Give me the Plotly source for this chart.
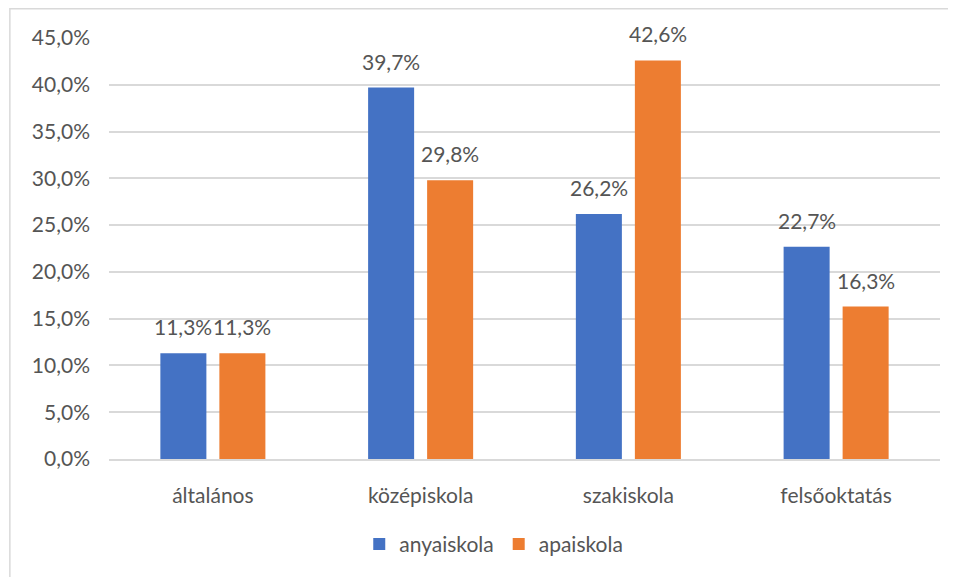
import plotly.graph_objects as go

categories = ["általános", "középiskola", "szakiskola", "felsőoktatás"]
anyaiskola = [11.3, 39.7, 26.2, 22.7]
apaiskola = [11.3, 29.8, 42.6, 16.3]
series_names = ["anyaiskola", "apaiskola"]
colors = ["#4472C4", "#ED7D31"]
tick_vals = [0, 5, 10, 15, 20, 25, 30, 35, 40, 45]
tick_text = [f"{v:.1f}".replace(".", ",") + "%" for v in tick_vals]

FONT = "Lato, Calibri, Carlito, sans-serif"
TXT = "#555555"
FS = 21

fig = go.Figure()
for name, vals, col in zip(series_names, [anyaiskola, apaiskola], colors):
    fig.add_trace(go.Bar(
        x=categories, y=vals, name=name,
        marker=dict(color=col, line=dict(width=0)),
    ))

annotations = []
for vals, shift in zip([anyaiskola, apaiskola], [-29.5, 29.5]):
    for c, v in zip(categories, vals):
        annotations.append(dict(
            x=c, y=v, xref="x", yref="y", text=f"{v:.1f}".replace(".", ",") + "%",
            showarrow=False, xshift=shift, yshift=12, yanchor="bottom",
            font=dict(family=FONT, size=FS, color=TXT),
        ))

fig.update_layout(
    width=948, height=569,
    margin=dict(l=101, r=16, t=30, b=116),
    paper_bgcolor="white", plot_bgcolor="white",
    barmode="group", bargap=0.432, bargroupgap=0.22,
    font=dict(family=FONT, size=FS, color=TXT),
    showlegend=True,
    legend=dict(orientation="h", x=0.463, xanchor="center", y=-0.203, yanchor="middle",
                font=dict(family=FONT, size=FS, color=TXT), itemwidth=30,
                traceorder="normal"),
    annotations=annotations,
    shapes=[dict(type="rect", xref="paper", yref="paper",
                 x0=-0.1193, x1=1.05, y0=-0.35, y1=1.0692,
                 line=dict(color="#d9d9d9", width=1.5), layer="below")],
)
fig.update_yaxes(range=[0, 45], tickmode="array", tickvals=tick_vals, ticktext=tick_text,
                 showgrid=True, gridcolor="#d9d9d9", gridwidth=1.5, zeroline=False,
                 showline=False, ticks="", ticklabelstandoff=18, automargin=False,
                 tickfont=dict(family=FONT, size=FS, color=TXT))
fig.update_xaxes(showline=True, linecolor="#d9d9d9", linewidth=1.5, ticks="",
                 ticklabelstandoff=17, automargin=False,
                 tickfont=dict(family=FONT, size=FS, color=TXT))

fig.write_html("out.html")
